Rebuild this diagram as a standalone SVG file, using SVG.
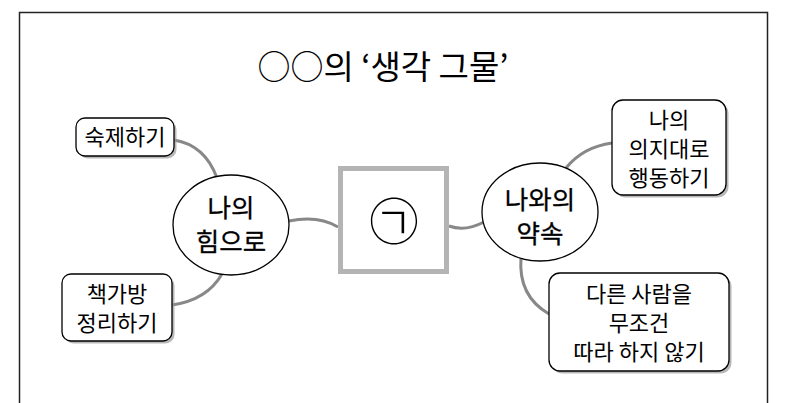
<svg xmlns="http://www.w3.org/2000/svg" width="790" height="403" viewBox="0 0 790 403">
<style>
text{font-family:"Noto Sans CJK KR","Liberation Sans",sans-serif;fill:#000;text-anchor:middle}
.box{fill:#fff;stroke:#000;stroke-width:1.3}
.sh{fill:#9a9a9a;opacity:.7}
.ell{fill:#fff;stroke:#000;stroke-width:1.3}
.con{fill:none;stroke:#888;stroke-width:3}
.t20{font-size:22px}
.t26{font-size:25.5px}
</style>
<rect x="0" y="0" width="790" height="403" fill="#fff"/>
<path d="M19.5 403 V12.5 H767.5 V403" fill="none" stroke="#222" stroke-width="1.5"/>
<text x="383" y="79" font-size="33">○○의 ‘생각 그물’</text>
<g id="connectors">
<path class="con" d="M174 140 Q205 145 217 178"/>
<path class="con" d="M222 274 Q207 300 172 305"/>
<path class="con" d="M289 221 Q318 215 338 227"/>
<path class="con" d="M449 226 Q465 232 484 222"/>
<path class="con" d="M566 168 Q583 147 612 143"/>
<path class="con" d="M521 258 Q518 296 549 314"/>
</g>
<g id="center">
<rect x="340.5" y="168.5" width="106" height="103" fill="#fff" stroke="#b4b4b4" stroke-width="5"/>
<text x="394" y="240" font-size="50" font-weight="300">㉠</text>
</g>
<g id="node-left">
<ellipse class="ell" cx="231" cy="225" rx="58" ry="50"/>
<text class="t26" x="231" y="217" stroke="#000" stroke-width="0.3">나의</text>
<text class="t26" x="231" y="251" stroke="#000" stroke-width="0.3">힘으로</text>
</g>
<g id="node-right">
<ellipse class="ell" cx="540" cy="212" rx="58" ry="49"/>
<text class="t26" x="540" y="209" stroke="#000" stroke-width="0.3">나와의</text>
<text class="t26" x="540" y="243" stroke="#000" stroke-width="0.3">약속</text>
</g>
<g id="box-homework">
<rect class="sh" x="78.5" y="120.5" width="98" height="38" rx="9"/>
<rect class="box" x="76" y="118" width="98" height="38" rx="9"/>
<text class="t20" x="125" y="145">숙제하기</text>
</g>
<g id="box-bag">
<rect class="sh" x="64.5" y="276.5" width="110" height="67" rx="9"/>
<rect class="box" x="62" y="274" width="110" height="67" rx="9"/>
<text class="t20" x="117" y="302">책가방</text>
<text class="t20" x="117" y="331">정리하기</text>
</g>
<g id="box-will">
<rect class="sh" x="614.5" y="102.5" width="114" height="95" rx="11"/>
<rect class="box" x="612" y="100" width="114" height="95" rx="11"/>
<text class="t20" x="669" y="128">나의</text>
<text class="t20" x="669" y="157">의지대로</text>
<text class="t20" x="669" y="186">행동하기</text>
</g>
<g id="box-follow">
<rect class="sh" x="551.5" y="275.5" width="180" height="98" rx="11"/>
<rect class="box" x="549" y="273" width="180" height="98" rx="11"/>
<text class="t20" x="639" y="302">다른 사람을</text>
<text class="t20" x="639" y="331">무조건</text>
<text class="t20" x="639" y="360">따라 하지 않기</text>
</g>
</svg>
